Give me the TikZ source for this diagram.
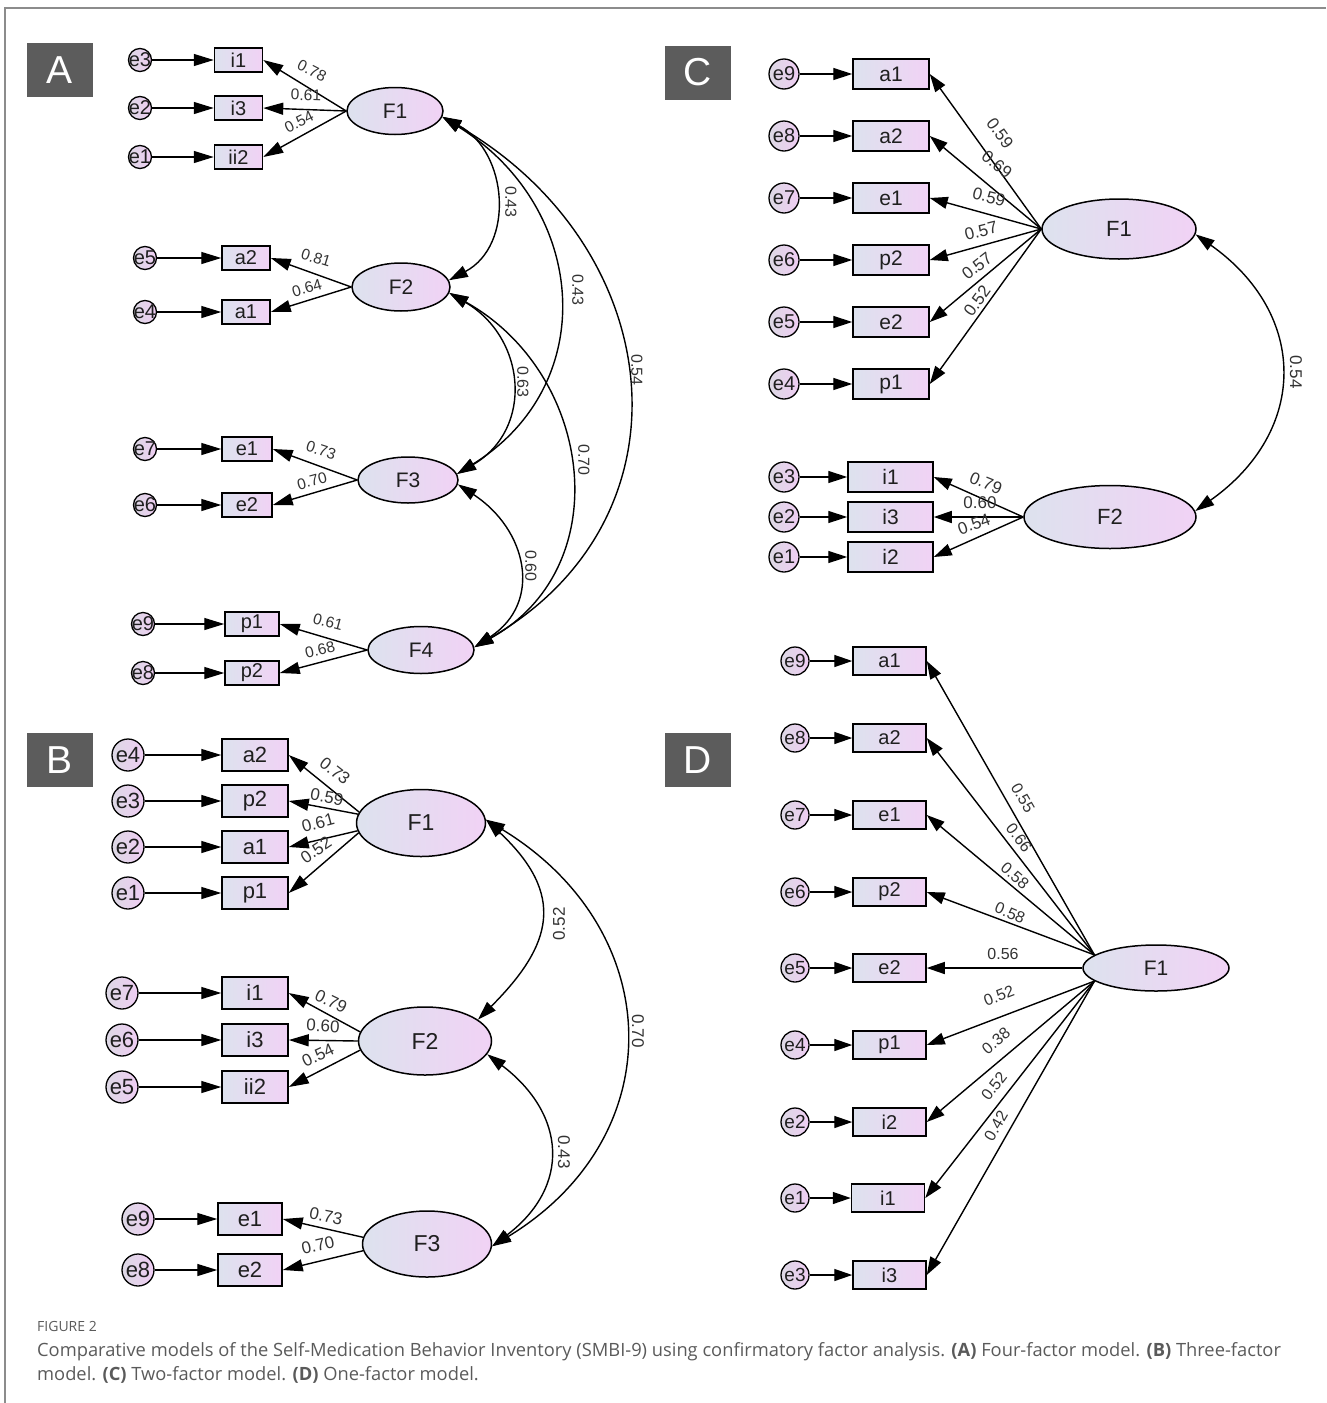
\documentclass[tikz,border=0pt]{standalone}
\usepackage{fontspec}
\setmainfont{Liberation Sans}
\newfontfamily\capfont{Open Sans}
\usetikzlibrary{arrows.meta,shapes.geometric}
\newcommand{\fsz}[1]{\fontsize{#1}{#1}\selectfont}
\newcommand{\eN}[1]{\makebox[0pt]{e#1}}
\definecolor{gL}{HTML}{DDE2EE}
\definecolor{gR}{HTML}{F1D2F5}
\definecolor{eL}{HTML}{DCD8E4}
\definecolor{eR}{HTML}{EFCDF3}
\definecolor{txt}{HTML}{333333}
\definecolor{boxgray}{HTML}{5C5C5C}
\definecolor{framec}{HTML}{8C8C8C}
\definecolor{captxt}{HTML}{5A5A5A}
\tikzset{
  shp/.style={draw=black, line width=1.5pt, left color=gL, right color=gR, inner sep=0pt, text=black!88},
  obs/.style={shp, rectangle},
  lat/.style={shp, ellipse},
  err/.style={shp, circle, left color=eL, right color=eR, line width=1.3pt},
  errA/.style={err, minimum size=23pt, font=\fsz{20}},
  errB/.style={err, minimum size=32pt, font=\fsz{22}},
  errC/.style={err, minimum size=30pt, font=\fsz{20}},
  errD/.style={err, minimum size=28pt, font=\fsz{19}},
  obsA/.style={obs, minimum height=24pt, font=\fsz{20}},
  obsB/.style={obs, minimum height=32pt, minimum width=66pt, font=\fsz{22}},
  obsC/.style={obs, minimum height=30pt, font=\fsz{21}},
  obsD/.style={obs, minimum height=28pt, minimum width=73pt, font=\fsz{20}},
  latA/.style={lat, font=\fsz{21}},
  latB/.style={lat, font=\fsz{23}},
  latC/.style={lat, font=\fsz{22}},
  latD/.style={lat, font=\fsz{21}},
  ar/.style={line width=1.4pt, -{Triangle[length=#1,width=12pt]}},
  ar/.default=20pt,
  cov/.style={line width=1.4pt, {Triangle[length=19pt,width=12pt]}-{Triangle[length=19pt,width=12pt]}},
  ld/.style={font=\fsz{#1}, text=txt, inner sep=0pt},
  ld/.default=16,
  plab/.style={fill=boxgray, text=white, font=\fsz{39}, minimum width=66pt, minimum height=54pt, inner sep=0pt},
  captionline/.style={font=\capfont\fsz{18.3}, text=captxt, inner sep=0pt, anchor=base west},
}
\begin{document}
\begin{tikzpicture}[x=1pt,y=-1pt]
\useasboundingbox (0,0) rectangle (1326,1403);
\draw[framec, line width=2pt] (1326,7.5) -- (5,7.5) -- (5,1403);

% panel labels
\node[plab] (labA) at (60,70) {A};
\node[plab] (labB) at (60,760) {B};
\node[plab] (labC) at (698,72.5) {C};
\node[plab] (labD) at (698,760) {D};

%================ PANEL A ================
\node[errA] (Ae3) at (140,60) {\eN{3}};
\node[errA] (Ae2) at (140,108) {\eN{2}};
\node[errA] (Ae1) at (140,157) {\eN{1}};
\node[errA] (Ae5) at (145,258) {\eN{5}};
\node[errA] (Ae4) at (145,312) {\eN{4}};
\node[errA] (Ae7) at (145,449) {\eN{7}};
\node[errA] (Ae6) at (145,505) {\eN{6}};
\node[errA] (Ae9) at (143,624) {\eN{9}};
\node[errA] (Ae8) at (143,673) {\eN{8}};

\node[obsA, minimum width=48pt] (Axi1) at (238.5,60) {i1};
\node[obsA, minimum width=48pt] (Axi3) at (238.5,108) {i3};
\node[obsA, minimum width=48pt] (Axii2) at (238.5,157) {ii2};
\node[obsA, minimum width=48pt] (Axa2) at (246,258) {a2};
\node[obsA, minimum width=48pt] (Axa1) at (246,312) {a1};
\node[obsA, minimum width=50pt] (Axe1) at (247,449) {e1};
\node[obsA, minimum width=50pt] (Axe2) at (247,505) {e2};
\node[obsA, minimum width=54pt] (Axp1) at (252,624) {p1};
\node[obsA, minimum width=54pt] (Axp2) at (252,673) {p2};

\node[latA, minimum width=96pt, minimum height=47pt] (AF1) at (395,111) {F1};
\node[latA, minimum width=98pt, minimum height=48pt] (AF2) at (401,287) {F2};
\node[latA, minimum width=100pt, minimum height=46pt] (AF3) at (408,480) {F3};
\node[latA, minimum width=106pt, minimum height=47pt] (AF4) at (421,650) {F4};

\draw[ar] (Ae3) -- (Axi1);
\draw[ar] (Ae2) -- (Axi3);
\draw[ar] (Ae1) -- (Axii2);
\draw[ar] (Ae5) -- (Axa2);
\draw[ar] (Ae4) -- (Axa1);
\draw[ar] (Ae7) -- (Axe1);
\draw[ar] (Ae6) -- (Axe2);
\draw[ar] (Ae9) -- (Axp1);
\draw[ar] (Ae8) -- (Axp2);

\draw[ar] (AF1.west) -- (Axi1.east);
\draw[ar] (AF1.west) -- (Axi3.east);
\draw[ar] (AF1.west) -- (Axii2.east);
\draw[ar] (AF2.west) -- (Axa2.east);
\draw[ar] (AF2.west) -- (Axa1.east);
\draw[ar] (AF3.west) -- (Axe1.east);
\draw[ar] (AF3.west) -- (Axe2.east);
\draw[ar] (AF4.west) -- (Axp1.east);
\draw[ar] (AF4.west) -- (Axp2.east);

\node[ld=15.5, rotate=-27] (lA1) at (312,71) {0.78};
\node[ld=15.5, rotate=-2] (lA2) at (306,95) {0.61};
\node[ld=15.5, rotate=26] (lA3) at (299,122) {0.54};
\node[ld=15.5, rotate=-17] (lA4) at (316,258) {0.81};
\node[ld=15.5, rotate=16] (lA5) at (307,288) {0.64};
\node[ld=15.5, rotate=-18] (lA6) at (321,450) {0.73};
\node[ld=15.5, rotate=15] (lA7) at (312,481) {0.70};
\node[ld=15.5, rotate=-15] (lA8) at (328,622) {0.61};
\node[ld=15.5, rotate=14] (lA9) at (320,650) {0.68};

\draw[cov] (AF1.-7) .. controls +(66,35) and +(66,-35) .. (AF2.8);
\draw[cov] (AF1.-7) .. controls +(145,90) and +(145,-90) .. (AF3.7);
\draw[cov] (AF1.-7) .. controls +(225,130) and +(225,-130) .. (AF4.3);
\draw[cov] (AF2.-7) .. controls +(77,45) and +(77,-45) .. (AF3.7);
\draw[cov] (AF2.-7) .. controls +(144,80) and +(144,-80) .. (AF4.3);
\draw[cov] (AF3.-5) .. controls +(69,45) and +(69,-45) .. (AF4.3);

\node[ld, rotate=-90] (cA1) at (511,202) {0.43};
\node[ld, rotate=-90] (cA2) at (578,290) {0.43};
\node[ld, rotate=-90] (cA3) at (637,370) {0.54};
\node[ld, rotate=-90] (cA4) at (523,382) {0.63};
\node[ld, rotate=-90] (cA5) at (584,460) {0.70};
\node[ld, rotate=-90] (cA6) at (531,566) {0.60};

%================ PANEL B ================
\node[errB] (Be4) at (128,755) {e4};
\node[errB] (Be3) at (128,801) {e3};
\node[errB] (Be2) at (128,847) {e2};
\node[errB] (Be1) at (128,893) {e1};
\node[errB] (Be7) at (122,993) {e7};
\node[errB] (Be6) at (122,1040) {e6};
\node[errB] (Be5) at (122,1087) {e5};
\node[errB] (Be9) at (138,1219) {e9};
\node[errB] (Be8) at (138,1270) {e8};

\node[obsB] (Bxa2) at (255,755) {a2};
\node[obsB] (Bxp2) at (255,801) {p2};
\node[obsB] (Bxa1) at (255,847) {a1};
\node[obsB] (Bxp1) at (255,893) {p1};
\node[obsB] (Bxi1) at (255,993) {i1};
\node[obsB] (Bxi3) at (255,1040) {i3};
\node[obsB] (Bxii2) at (255,1087) {ii2};
\node[obsB, minimum width=64pt] (Bxe1) at (250,1219) {e1};
\node[obsB, minimum width=64pt] (Bxe2) at (250,1270) {e2};

\node[latB, minimum width=129pt, minimum height=67pt] (BF1) at (421,823) {F1};
\node[latB, minimum width=133pt, minimum height=68pt] (BF2) at (425,1041) {F2};
\node[latB, minimum width=129pt, minimum height=66pt] (BF3) at (427,1244) {F3};

\draw[ar] (Be4) -- (Bxa2);
\draw[ar] (Be3) -- (Bxp2);
\draw[ar] (Be2) -- (Bxa1);
\draw[ar] (Be1) -- (Bxp1);
\draw[ar] (Be7) -- (Bxi1);
\draw[ar] (Be6) -- (Bxi3);
\draw[ar] (Be5) -- (Bxii2);
\draw[ar] (Be9) -- (Bxe1);
\draw[ar] (Be8) -- (Bxe2);

\draw[ar] (BF1.170) -- (Bxa2.east);
\draw[ar] (BF1.172) -- (Bxp2.east);
\draw[ar] (BF1.187) -- (Bxa1.east);
\draw[ar] (BF1.189) -- (Bxp1.east);
\draw[ar] (BF2.172) -- (Bxi1.east);
\draw[ar] (BF2.west) -- (Bxi3.east);
\draw[ar] (BF2.188) -- (Bxii2.east);
\draw[ar] (BF3.174) -- (Bxe1.east);
\draw[ar] (BF3.186) -- (Bxe2.east);

\node[ld=17, rotate=-38] (lB1) at (335,771) {0.73};
\node[ld=17, rotate=-10] (lB2) at (327,797) {0.59};
\node[ld=17, rotate=15] (lB3) at (318,823) {0.61};
\node[ld=17, rotate=34] (lB4) at (316,850) {0.52};
\node[ld=17, rotate=-26] (lB5) at (331,1001) {0.79};
\node[ld=17, rotate=-3] (lB6) at (323,1026) {0.60};
\node[ld=17, rotate=25] (lB7) at (318,1055) {0.54};
\node[ld=17, rotate=-11] (lB8) at (326,1216) {0.73};
\node[ld=17, rotate=13] (lB9) at (318,1245) {0.70};

\draw[cov] (BF1.3) .. controls +(80,75) and +(75,-75) .. (BF2.22);
\draw[cov] (BF1.3) .. controls +(181,110) and +(181,-110) .. (BF3.-2);
\draw[cov] (BF2.-12) .. controls +(79,60) and +(79,-60) .. (BF3.-2);

\node[ld=17, rotate=90] (cB1) at (559,924) {0.52};
\node[ld=17, rotate=-90] (cB2) at (638,1031) {0.70};
\node[ld=17, rotate=-90] (cB3) at (564,1152) {0.43};

%================ PANEL C ================
\node[errC] (Ce9) at (784,74) {e9};
\node[errC] (Ce8) at (784,136) {e8};
\node[errC] (Ce7) at (784,198) {e7};
\node[errC] (Ce6) at (784,260) {e6};
\node[errC] (Ce5) at (784,322) {e5};
\node[errC] (Ce4) at (784,384) {e4};
\node[errC] (Ce3) at (784,477) {e3};
\node[errC] (Ce2) at (784,517) {e2};
\node[errC] (Ce1) at (784,557) {e1};

\node[obsC, minimum width=76pt] (Cxa1) at (891,74) {a1};
\node[obsC, minimum width=76pt] (Cxa2) at (891,136) {a2};
\node[obsC, minimum width=76pt] (Cxe1) at (891,198) {e1};
\node[obsC, minimum width=76pt] (Cxp2) at (891,260) {p2};
\node[obsC, minimum width=76pt] (Cxe2) at (891,322) {e2};
\node[obsC, minimum width=76pt] (Cxp1) at (891,384) {p1};
\node[obsC, minimum width=85pt] (Cxi1) at (890.5,477) {i1};
\node[obsC, minimum width=85pt] (Cxi3) at (890.5,517) {i3};
\node[obsC, minimum width=85pt] (Cxi2) at (890.5,557) {i2};

\node[latC, minimum width=154pt, minimum height=60pt] (CF1) at (1119,229) {F1};
\node[latC, minimum width=172pt, minimum height=63pt] (CF2) at (1110,517) {F2};

\draw[ar=19pt] (Ce9) -- (Cxa1);
\draw[ar=19pt] (Ce8) -- (Cxa2);
\draw[ar=19pt] (Ce7) -- (Cxe1);
\draw[ar=19pt] (Ce6) -- (Cxp2);
\draw[ar=19pt] (Ce5) -- (Cxe2);
\draw[ar=19pt] (Ce4) -- (Cxp1);
\draw[ar=19pt] (Ce3) -- (Cxi1);
\draw[ar=19pt] (Ce2) -- (Cxi3);
\draw[ar=19pt] (Ce1) -- (Cxi2);

\draw[ar=18pt] (CF1.west) -- (Cxa1.east);
\draw[ar=18pt] (CF1.west) -- (Cxa2.east);
\draw[ar=18pt] (CF1.west) -- (Cxe1.east);
\draw[ar=18pt] (CF1.west) -- (Cxp2.east);
\draw[ar=18pt] (CF1.west) -- (Cxe2.east);
\draw[ar=18pt] (CF1.west) -- (Cxp1.east);
\draw[ar=18pt] (CF2.west) -- (Cxi1.east);
\draw[ar=18pt] (CF2.west) -- (Cxi3.east);
\draw[ar=18pt] (CF2.west) -- (Cxi2.east);

\node[ld=17, rotate=-54] (lC1) at (1000,133) {0.59};
\node[ld=17, rotate=-39] (lC2) at (997,164) {0.69};
\node[ld=17, rotate=-14] (lC3) at (989,197) {0.59};
\node[ld=17, rotate=14] (lC4) at (981,231) {0.57};
\node[ld=17, rotate=38] (lC5) at (977,266) {0.57};
\node[ld=17, rotate=54] (lC6) at (977,301) {0.52};
\node[ld=17, rotate=-22] (lC7) at (986,483) {0.79};
\node[ld=17, rotate=0] (lC8) at (980,503) {0.60};
\node[ld=17, rotate=20] (lC9) at (974,524) {0.54};

\draw[cov] (CF1.-4) .. controls +(113,80) and +(113,-80) .. (CF2.4);
\node[ld=17, rotate=-90] (cC1) at (1296,372) {0.54};

%================ PANEL D ================
\node[errD] (De9) at (795,661) {e9};
\node[errD] (De8) at (795,738) {e8};
\node[errD] (De7) at (795,815) {e7};
\node[errD] (De6) at (795,892) {e6};
\node[errD] (De5) at (795,968) {e5};
\node[errD] (De4) at (795,1045) {e4};
\node[errD] (De2) at (795,1122) {e2};
\node[errD] (De1) at (795,1198) {e1};
\node[errD] (De3) at (795,1275) {e3};

\node[obsD] (Dxa1) at (889.5,661) {a1};
\node[obsD] (Dxa2) at (889.5,738) {a2};
\node[obsD] (Dxe1) at (889.5,815) {e1};
\node[obsD] (Dxp2) at (889.5,892) {p2};
\node[obsD] (Dxe2) at (889.5,968) {e2};
\node[obsD] (Dxp1) at (889.5,1045) {p1};
\node[obsD] (Dxi2) at (889.5,1122) {i2};
\node[obsD] (Dxi1) at (888,1198) {i1};
\node[obsD] (Dxi3) at (889.5,1275) {i3};

\node[latD, minimum width=146pt, minimum height=46pt] (DF1) at (1156,968) {F1};

\draw[ar=18pt] (De9) -- (Dxa1);
\draw[ar=18pt] (De8) -- (Dxa2);
\draw[ar=18pt] (De7) -- (Dxe1);
\draw[ar=18pt] (De6) -- (Dxp2);
\draw[ar=18pt] (De5) -- (Dxe2);
\draw[ar=18pt] (De4) -- (Dxp1);
\draw[ar=18pt] (De2) -- (Dxi2);
\draw[ar=18pt] (De1) -- (Dxi1);
\draw[ar=18pt] (De3) -- (Dxi3);

\draw[ar=18pt] (DF1.168) -- (Dxa1.east);
\draw[ar=18pt] (DF1.168) -- (Dxa2.east);
\draw[ar=18pt] (DF1.168) -- (Dxe1.east);
\draw[ar=18pt] (DF1.168) -- (Dxp2.east);
\draw[ar=18pt] (DF1.west) -- (Dxe2.east);
\draw[ar=18pt] (DF1.192) -- (Dxp1.east);
\draw[ar=18pt] (DF1.192) -- (Dxi2.east);
\draw[ar=18pt] (DF1.192) -- (Dxi1.east);
\draw[ar=18pt] (DF1.192) -- (Dxi3.east);

\node[ld=16, rotate=-60] (lD1) at (1023,798) {0.55};
\node[ld=16, rotate=-53] (lD2) at (1019,838) {0.66};
\node[ld=16, rotate=-41] (lD3) at (1015,876) {0.58};
\node[ld=16, rotate=-23] (lD4) at (1010,913) {0.58};
\node[ld=16, rotate=0] (lD5) at (1003,954) {0.56};
\node[ld=16, rotate=21] (lD6) at (999,996) {0.52};
\node[ld=16, rotate=40] (lD7) at (996,1041) {0.38};
\node[ld=16, rotate=52] (lD8) at (994,1086) {0.52};
\node[ld=16, rotate=60] (lD9) at (996,1126) {0.42};

%================ CAPTION ================
\node[captionline, font=\capfont\fsz{14}] (capfig) at (37,1331) {FIGURE 2};
\node[captionline] (cap1) at (37,1356) {Comparative models of the Self-Medication Behavior Inventory (SMBI-9) using confirmatory factor analysis. \textbf{(A)} Four-factor model. \textbf{(B)} Three-factor};
\node[captionline] (cap2) at (37,1380) {model. \textbf{(C)} Two-factor model. \textbf{(D)} One-factor model.};
\end{tikzpicture}
\end{document}
